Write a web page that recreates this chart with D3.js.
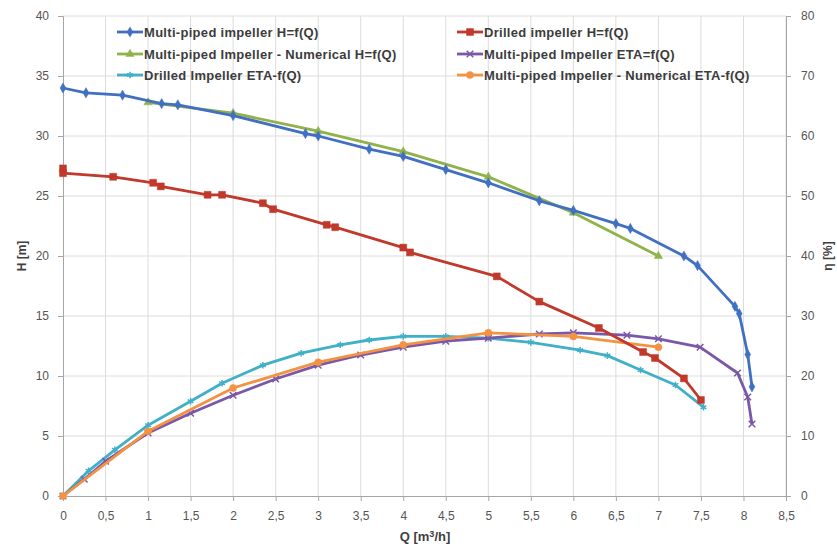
<!DOCTYPE html>
<html>
<head>
  <meta charset="utf-8">
  <script src="https://cdn.jsdelivr.net/npm/d3@7"></script>
  <title>Impeller characteristics</title>
  <style>
    body { margin: 0; background: #fff; }
    text { font-family: "Liberation Sans", Arial, sans-serif; }
  </style>
</head>
<body>
  <div class="chart"></div>
  <script type="text/javascript">
    // Multi-piped impeller H=f(Q)
    var mpQ = [0, 0.27, 0.7, 1.16, 1.35, 2.0, 2.85, 3.0, 3.6, 4.0, 4.5, 5.0, 5.6, 6.0, 6.5, 6.67, 7.3, 7.46, 7.9, 7.95, 8.05, 8.1];
    var mpH = [34.0, 33.6, 33.4, 32.7, 32.6, 31.7, 30.2, 30.0, 28.9, 28.3, 27.2, 26.1, 24.6, 23.8, 22.7, 22.3, 20.0, 19.2, 15.8, 15.2, 11.8, 9.1];

    // Drilled impeller H=f(Q)
    var drQ = [0, 0, 0.59, 1.06, 1.15, 1.7, 1.87, 2.35, 2.47, 3.1, 3.2, 4.0, 4.08, 5.1, 5.6, 6.3, 6.82, 6.96, 7.3, 7.5];
    var drH = [27.3, 26.9, 26.6, 26.1, 25.8, 25.1, 25.1, 24.4, 23.9, 22.6, 22.4, 20.7, 20.3, 18.3, 16.2, 14.0, 12.0, 11.5, 9.8, 8.0];

    // Multi-piped impeller - Numerical H=f(Q)
    var numQ = [1, 2, 3, 4, 5, 6, 7];
    var numH = [32.8, 31.9, 30.4, 28.7, 26.6, 23.6, 20.0];

    // Multi-piped impeller ETA=f(Q)
    var mpEtaQ = [0, 0.25, 0.5, 1.0, 1.5, 2.0, 2.5, 3.0, 3.5, 4.0, 4.5, 5.0, 5.6, 6.0, 6.63, 7.0, 7.49, 7.93, 8.05, 8.1];
    var mpEta = [0, 2.8, 5.8, 10.5, 13.8, 16.8, 19.5, 21.8, 23.5, 24.8, 25.8, 26.3, 27.0, 27.2, 26.8, 26.2, 24.8, 20.5, 16.5, 12.0];

    // Drilled impeller ETA=f(Q)
    var drEtaQ = [0, 0.3, 0.61, 1.0, 1.5, 1.87, 2.35, 2.8, 3.26, 3.6, 4.0, 4.5, 5.0, 5.5, 6.08, 6.4, 6.79, 7.2, 7.53];
    var drEta = [0, 4.2, 7.7, 11.8, 15.8, 18.8, 21.8, 23.8, 25.2, 26.0, 26.6, 26.6, 26.3, 25.6, 24.3, 23.4, 21.0, 18.5, 14.8];

    // Multi-piped impeller - Numerical ETA=f(Q)
    var numEtaQ = [0, 1, 2, 3, 4, 5, 6, 7];
    var numEta = [0, 10.8, 18.0, 22.3, 25.2, 27.2, 26.6, 24.8];

    var xTicks = [0, 0.5, 1, 1.5, 2, 2.5, 3, 3.5, 4, 4.5, 5, 5.5, 6, 6.5, 7, 7.5, 8, 8.5];
    var hTicks = [0, 5, 10, 15, 20, 25, 30, 35, 40];
    var etaTicks = [0, 10, 20, 30, 40, 50, 60, 70, 80];

    function draw() {
      var width = 837, height = 550;
      var pLeft = 63, pRight = 786, pTop = 16, pBottom = 496;

      var x = d3.scaleLinear().domain([0, 8.5]).range([pLeft, pRight]);
      var yH = d3.scaleLinear().domain([0, 40]).range([pBottom, pTop]);
      var yEta = d3.scaleLinear().domain([0, 80]).range([pBottom, pTop]);

      var comma = function(d) { return String(d).replace('.', ','); };

      var svg = d3.select('.chart')
        .append('svg')
        .attr('width', width)
        .attr('height', height);

      svg.append('rect').attr('width', width).attr('height', height).attr('fill', '#fff');

      // grid
      var grid = svg.append('g').attr('class', 'grid');
      grid.selectAll('line.v')
        .data(xTicks.slice(1))
        .enter().append('line')
        .attr('x1', function(d) { return x(d); })
        .attr('x2', function(d) { return x(d); })
        .attr('y1', pTop).attr('y2', pBottom)
        .attr('stroke', '#dcdcdc').attr('stroke-width', 1);
      grid.selectAll('line.h')
        .data(hTicks.slice(1))
        .enter().append('line')
        .attr('x1', pLeft).attr('x2', pRight)
        .attr('y1', function(d) { return yH(d); })
        .attr('y2', function(d) { return yH(d); })
        .attr('stroke', '#dcdcdc').attr('stroke-width', 1);

      // axes
      var axisColor = '#a6a6a6';
      var labelColor = '#555';

      var gx = svg.append('g')
        .attr('transform', 'translate(0,' + pBottom + ')')
        .call(d3.axisBottom(x).tickValues(xTicks).tickFormat(comma).tickSize(5).tickPadding(10));
      var gl = svg.append('g')
        .attr('transform', 'translate(' + pLeft + ',0)')
        .call(d3.axisLeft(yH).tickValues(hTicks).tickSize(5).tickPadding(9));
      var gr = svg.append('g')
        .attr('transform', 'translate(' + pRight + ',0)')
        .call(d3.axisRight(yEta).tickValues(etaTicks).tickSize(5).tickPadding(10));

      [gx, gl, gr].forEach(function(g) {
        g.select('.domain').attr('stroke', axisColor);
        g.selectAll('.tick line').attr('stroke', axisColor);
        g.selectAll('.tick text')
          .attr('fill', labelColor)
          .style('font-size', '12px')
          .style('font-family', '"Liberation Sans", Arial, sans-serif');
      });

      svg.append('text')
        .attr('x', 425).attr('y', 541)
        .attr('text-anchor', 'middle')
        .attr('fill', '#404040')
        .style('font-size', '13px').style('font-weight', 'bold')
        .html('Q [m<tspan dy="-4" style="font-size:9px">3</tspan><tspan dy="4">/h]</tspan>');

      svg.append('text')
        .attr('transform', 'translate(26,' + (pTop + pBottom) / 2 + ') rotate(-90)')
        .attr('text-anchor', 'middle')
        .attr('fill', '#404040')
        .style('font-size', '12px').style('font-weight', 'bold')
        .text('H [m]');

      svg.append('text')
        .attr('transform', 'translate(832,' + (pTop + pBottom) / 2 + ') rotate(-90)')
        .attr('text-anchor', 'middle')
        .attr('fill', '#404040')
        .style('font-size', '12px').style('font-weight', 'bold')
        .text('η [%]');

      // series
      var xSym = d3.symbolX || d3.symbolCross;
      var plusSym = d3.symbolAsterisk || d3.symbolCross;

      var series = [
        {name: 'Multi-piped impeller H=f(Q)', q: mpQ, v: mpH, y: yH, color: '#4170c2', sym: d3.symbolDiamond, size: 30, filled: true},
        {name: 'Drilled impeller H=f(Q)', q: drQ, v: drH, y: yH, color: '#c0392b', sym: d3.symbolSquare, size: 48, filled: true},
        {name: 'Multi-piped Impeller - Numerical H=f(Q)', q: numQ, v: numH, y: yH, color: '#8fb34a', sym: d3.symbolTriangle, size: 30, filled: true},
        {name: 'Multi-piped Impeller ETA=f(Q)', q: mpEtaQ, v: mpEta, y: yEta, color: '#7a58a8', sym: xSym, size: 30, filled: false},
        {name: 'Drilled Impeller ETA-f(Q)', q: drEtaQ, v: drEta, y: yEta, color: '#3fb0c8', sym: plusSym, size: 30, filled: false},
        {name: 'Multi-piped Impeller - Numerical ETA-f(Q)', q: numEtaQ, v: numEta, y: yEta, color: '#f39242', sym: d3.symbolCircle, size: 40, filled: true}
      ];

      function symbolPath(s) {
        return d3.symbol().type(s.sym).size(s.size)();
      }

      // ETA curves underneath, head curves on top
      var order = [4, 3, 5, 2, 0, 1];
      order.forEach(function(i) {
        var s = series[i];
        var pts = s.q.map(function(q, k) { return [x(q), s.y(s.v[k])]; });
        var g = svg.append('g').attr('class', 'series');
        g.append('path')
          .attr('d', d3.line()(pts))
          .attr('fill', 'none')
          .attr('stroke', s.color)
          .attr('stroke-width', 2.8)
          .attr('stroke-linejoin', 'round');
        g.selectAll('path.m')
          .data(pts)
          .enter().append('path')
          .attr('class', 'm')
          .attr('transform', function(d) { return 'translate(' + d[0] + ',' + d[1] + ')'; })
          .attr('d', symbolPath(s))
          .attr('fill', s.filled ? s.color : 'none')
          .attr('stroke', s.color)
          .attr('stroke-width', s.filled ? 0.5 : 1.5);
      });

      // legend
      var legendPos = [
        [117, 32], [457, 32],
        [117, 54], [457, 54],
        [117, 75], [457, 75]
      ];
      var legend = svg.append('g').attr('class', 'legend');
      series.forEach(function(s, i) {
        var p = legendPos[i];
        var g = legend.append('g').attr('transform', 'translate(' + p[0] + ',' + p[1] + ')');
        g.append('line')
          .attr('x1', 0).attr('x2', 26)
          .attr('stroke', s.color).attr('stroke-width', 2.8);
        g.append('path')
          .attr('transform', 'translate(13,0)')
          .attr('d', symbolPath(s))
          .attr('fill', s.filled ? s.color : 'none')
          .attr('stroke', s.color)
          .attr('stroke-width', s.filled ? 0.5 : 1.5);
        g.append('text')
          .attr('x', 27).attr('y', 0)
          .attr('dy', '0.35em')
          .attr('fill', '#3c3c3c')
          .style('font-size', '13px')
          .style('font-weight', 'bold')
          .style('letter-spacing', '0.3px')
          .text(s.name);
      });
    }

    draw();
  </script>
</body>
</html>
